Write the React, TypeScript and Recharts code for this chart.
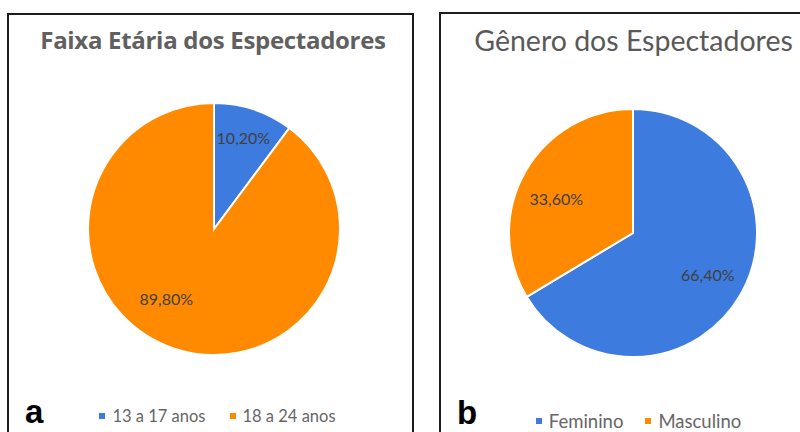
import { PieChart, Pie, Cell, Legend } from "recharts";

const ageCategories = ["13 a 17 anos", "18 a 24 anos"];
const ageValues = [10.2, 89.8];

const genderCategories = ["Feminino", "Masculino"];
const genderValues = [66.4, 33.6];

const sliceColors = ["#3D7BDE", "#FF8A00"];

const RAD = Math.PI / 180;

const fmt = (v: number) => v.toFixed(2).replace(".", ",") + "%";

interface PanelProps {
  names: string[];
  values: number[];
  title: string;
  titleStyle: React.CSSProperties;
  letter: string;
  box: { left: number; top: number; width: number; height: number };
  chartW: number;
  chartH: number;
  cx: number;
  cy: number;
  radius: number;
  labelR: number[];
  labelShift: number[];
  legendTop: number;
  legendFont: number;
  legendShiftX: number;
  legendGap: number;
  letterPos: { left: number; top: number };
}

const Panel = (p: PanelProps) => {
  const data = p.names.map((name, i) => ({ name, value: p.values[i] }));

  const renderLabel = (props: any) => {
    const { cx, cy, midAngle, outerRadius, index, value } = props;
    const a = (midAngle + p.labelShift[index]) * RAD;
    const r = outerRadius * p.labelR[index];
    const x = cx + r * Math.cos(a);
    const y = cy - r * Math.sin(a);
    return (
      <text
        x={x}
        y={y}
        textAnchor="middle"
        dominantBaseline="central"
        fill="#404040"
        fontSize={16}
        fontFamily="Lato"
      >
        {fmt(value)}
      </text>
    );
  };

  const renderLegend = () => (
    <div
      style={{
        display: "flex",
        justifyContent: "center",
        gap: p.legendGap,
        fontFamily: "Lato",
        fontSize: p.legendFont,
        color: "#666",
        transform: `translateX(${p.legendShiftX}px)`,
      }}
    >
      {data.map((d, i) => (
        <span key={d.name} style={{ display: "flex", alignItems: "center" }}>
          <span
            style={{
              width: 6,
              height: 6,
              background: sliceColors[i],
              display: "inline-block",
              marginRight: 7,
            }}
          />
          {d.name}
        </span>
      ))}
    </div>
  );

  return (
    <div
      style={{
        position: "absolute",
        left: p.box.left,
        top: p.box.top,
        width: p.box.width,
        height: p.box.height,
        border: "2px solid #1c1c1c",
        boxSizing: "border-box",
        background: "#fff",
      }}
    >
      <div
        style={{
          position: "absolute",
          whiteSpace: "nowrap",
          transform: "translateX(-50%)",
          ...p.titleStyle,
        }}
      >
        {p.title}
      </div>
      <PieChart width={p.chartW} height={p.chartH} margin={{ top: 0, right: 0, bottom: 0, left: 0 }}>
        <Pie
          data={data}
          dataKey="value"
          nameKey="name"
          cx={p.cx}
          cy={p.cy}
          outerRadius={p.radius}
          startAngle={90}
          endAngle={-270}
          stroke="#fff"
          strokeWidth={2}
          label={renderLabel}
          labelLine={false}
          isAnimationActive={false}
        >
          {data.map((d, i) => (
            <Cell key={d.name} fill={sliceColors[i]} />
          ))}
        </Pie>
        <Legend
          content={renderLegend}
          wrapperStyle={{ position: "absolute", top: p.legendTop, left: 0, width: p.chartW, bottom: "auto" }}
        />
      </PieChart>
      <div
        style={{
          position: "absolute",
          left: p.letterPos.left,
          top: p.letterPos.top,
          fontFamily: "Liberation Sans",
          fontWeight: "bold",
          fontSize: 33,
          color: "#000",
          lineHeight: 1,
        }}
      >
        {p.letter}
      </div>
    </div>
  );
};

export default function App() {
  return (
    <div
      style={{
        position: "fixed",
        left: 0,
        top: 0,
        width: 800,
        height: 432,
        overflow: "hidden",
        background: "#fff",
      }}
    >
      <Panel
        names={ageCategories}
        values={ageValues}
        title="Faixa Etária dos Espectadores"
        titleStyle={{
          left: 204,
          top: 8,
          fontFamily: "Open Sans",
          fontWeight: 700,
          fontSize: 24,
          letterSpacing: -0.3,
          color: "#606060",
          lineHeight: "34px",
        }}
        letter="a"
        box={{ left: 7, top: 13, width: 407, height: 440 }}
        chartW={403}
        chartH={436}
        cx={205}
        cy={214}
        radius={126}
        labelR={[0.76, 0.67]}
        labelShift={[0.5, -16]}
        legendTop={391}
        legendFont={16.5}
        legendShiftX={7}
        legendGap={24}
        letterPos={{ left: 16, top: 380 }}
      />
      <Panel
        names={genderCategories}
        values={genderValues}
        title="Gênero dos Espectadores"
        titleStyle={{
          left: 192.5,
          top: 7,
          fontFamily: "Lato",
          fontWeight: 400,
          fontSize: 28.5,
          color: "#595959",
          lineHeight: "38px",
        }}
        letter="b"
        box={{ left: 439, top: 12, width: 400, height: 440 }}
        chartW={359}
        chartH={436}
        cx={192}
        cy={219}
        radius={124}
        labelR={[0.69, 0.68]}
        labelShift={[0.5, 5]}
        legendTop={396}
        legendFont={18.5}
        legendShiftX={18}
        legendGap={22}
        letterPos={{ left: 16, top: 382 }}
      />
    </div>
  );
}
